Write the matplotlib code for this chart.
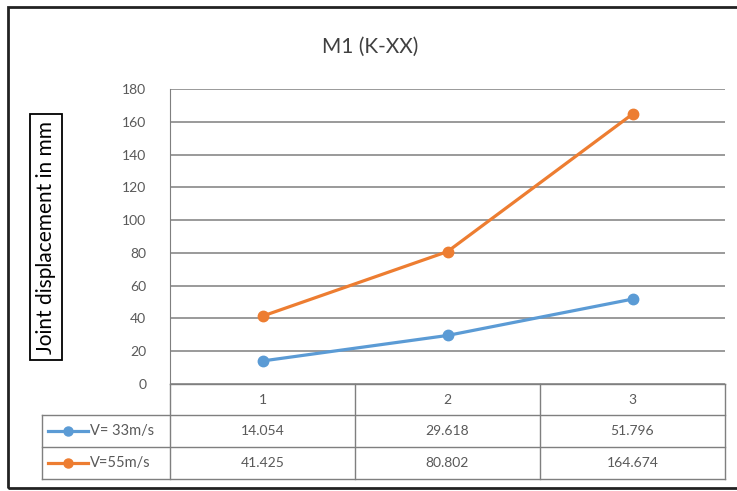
import matplotlib.pyplot as plt
from matplotlib.lines import Line2D
from matplotlib.patches import Rectangle

categories = ["1", "2", "3"]
series_names = ["V= 33m/s", "V=55m/s"]
v33 = [14.054, 29.618, 51.796]
v55 = [41.425, 80.802, 164.674]
labels_33 = ["14.054", "29.618", "51.796"]
labels_55 = ["41.425", "80.802", "164.674"]
yticks = [0, 20, 40, 60, 80, 100, 120, 140, 160, 180]

blue = "#5B9BD5"
orange = "#ED7D31"
grid_c = "#7F7F7F"
text_c = "#595959"

plt.rcParams['font.family'] = ['Lato', 'DejaVu Sans']

W, H = 737, 491
fig = plt.figure(figsize=(W / 100, H / 100), dpi=100)


def fx(x):
    return x / W


def fy(y):
    return 1 - y / H


# plot area in pixels
L, R, T, B = 170, 725, 89, 384
ax = fig.add_axes([fx(L), fy(B), fx(R) - fx(L), fy(T) - fy(B)])

xs = list(range(len(categories)))
ax.plot(xs, v33, color=blue, lw=2.3, marker='o', ms=7.5, zorder=3)
ax.plot(xs, v55, color=orange, lw=2.3, marker='o', ms=7.5, zorder=3)
ax.set_xlim(-0.5, len(categories) - 0.5)
ax.set_ylim(0, 180)
ax.set_yticks(yticks)
ax.set_xticks([])
ax.grid(axis='y', color=grid_c, lw=1.1)
ax.set_axisbelow(True)
for s in ['top', 'right', 'bottom']:
    ax.spines[s].set_visible(False)
ax.spines['left'].set_color(grid_c)
ax.tick_params(axis='y', length=0, pad=17, labelsize=10, labelcolor=text_c)

# title and y label
fig.text(fx(370), fy(47), "M1 (K-XX)", ha='center', va='center', fontsize=15, color="#404040")
fig.text(fx(46), fy(237), "Joint displacement in mm", rotation=90, ha='center', va='center',
         fontsize=15, color="black",
         bbox=dict(boxstyle='square,pad=0.3', fc='white', ec='black', lw=1.3))

# data table below the plot
col_edges = [L + i * (R - L) / len(categories) for i in range(len(categories) + 1)]
row_edges = [384, 415, 447, 479]
tl = 42


def hline(x0, x1, y):
    fig.add_artist(Line2D([fx(x0), fx(x1)], [fy(y), fy(y)], color=grid_c, lw=1.0))


def vline(x, y0, y1):
    fig.add_artist(Line2D([fx(x), fx(x)], [fy(y0), fy(y1)], color=grid_c, lw=1.0))


hline(L, R, row_edges[0])
for y in row_edges[1:]:
    hline(tl, R, y)
for x in col_edges:
    vline(x, row_edges[0], row_edges[-1])
vline(tl, row_edges[1], row_edges[-1])

for i, c in enumerate(categories):
    cx = (col_edges[i] + col_edges[i + 1]) / 2
    fig.text(fx(cx), fy((row_edges[0] + row_edges[1]) / 2), c, ha='center', va='center',
             fontsize=10, color=text_c)

rows = [(series_names[0], labels_33, blue), (series_names[1], labels_55, orange)]
for r, (name, vals, col) in enumerate(rows):
    cy = (row_edges[r + 1] + row_edges[r + 2]) / 2
    fig.add_artist(Line2D([fx(48), fx(88)], [fy(cy), fy(cy)], color=col, lw=2.3))
    fig.add_artist(Line2D([fx(68)], [fy(cy)], color=col, marker='o', ms=6.5))
    fig.text(fx(90), fy(cy), name, ha='left', va='center', fontsize=10.5, color=text_c)
    for i, v in enumerate(vals):
        cx = (col_edges[i] + col_edges[i + 1]) / 2
        fig.text(fx(cx), fy(cy), v, ha='center', va='center', fontsize=10, color=text_c)

# outer chart frame
fig.add_artist(Rectangle((fx(8), fy(488)), fx(745) - fx(8), fy(7) - fy(488),
                         fill=False, ec="#222222", lw=2.0))

fig.savefig("out.png", dpi=100)
